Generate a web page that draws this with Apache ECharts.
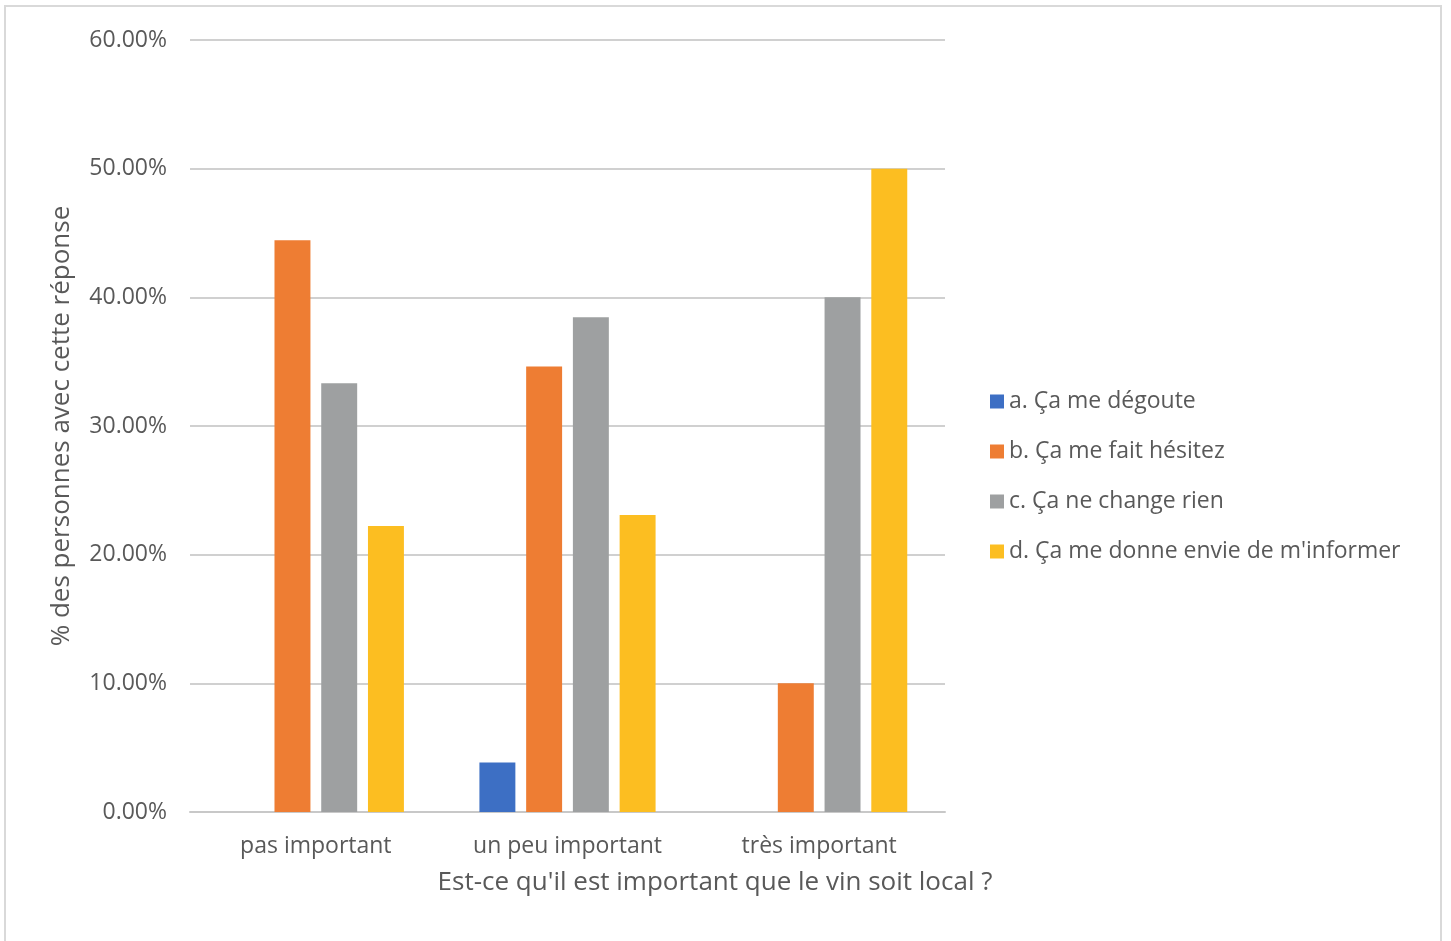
<!DOCTYPE html>
<html>
<head>
<meta charset="utf-8">
<title>Importance du vin local</title>
<script src="https://cdn.jsdelivr.net/npm/echarts@6/dist/echarts.min.js"></script>
<style>
  html, body { margin: 0; padding: 0; background: #ffffff; }
  #chart { width: 1451px; height: 941px; }
</style>
</head>
<body>
<div id="chart"></div>
<script>
// Survey answers, percentage of respondents per importance level
const categories = ['pas important', 'un peu important', 'très important'];
const seriesNames = [
  'a. Ça me dégoute',
  'b. Ça me fait hésitez',
  'c. Ça ne change rien',
  "d. Ça me donne envie de m'informer"
];
const valuesA = [0, 3.85, 0];
const valuesB = [44.44, 34.62, 10.00];
const valuesC = [33.33, 38.46, 40.00];
const valuesD = [22.22, 23.08, 50.00];
const seriesValues = [valuesA, valuesB, valuesC, valuesD];
const seriesColors = ['#3D6FC4', '#EE7D33', '#9EA0A1', '#FCBE21'];

const yAxisTitle = '% des personnes avec cette réponse';
const xAxisTitle = "Est-ce qu'il est important que le vin soit local ?";

const FONT = '"Open Sans", "Noto Sans", sans-serif';
const TEXT = '#595959';

const chart = echarts.init(document.getElementById('chart'), null, { renderer: 'canvas' });

chart.setOption({
  backgroundColor: '#ffffff',
  animation: false,
  graphic: [{
    type: 'rect',
    shape: { x: 5, y: 6, width: 1436, height: 950 },
    style: { fill: 'none', stroke: '#d9d9d9', lineWidth: 2 },
    silent: true,
    z: -1
  }],
  // x-axis title, centred under the plot and legend together
  title: {
    text: xAxisTitle,
    left: 710,
    top: 865,
    textAlign: 'center',
    textStyle: { color: TEXT, fontFamily: FONT, fontSize: 26, fontWeight: 'normal' }
  },
  grid: { left: 190, right: 506, top: 40, bottom: 129, containLabel: false },
  legend: {
    orient: 'vertical',
    left: 985,
    top: 385,
    itemWidth: 14,
    itemHeight: 14,
    itemGap: 27,
    icon: 'rect',
    textStyle: { color: TEXT, fontFamily: FONT, fontSize: 23, padding: [0, 0, 0, 0] },
    data: seriesNames
  },
  xAxis: {
    type: 'category',
    data: categories,
    axisLine: { show: true, lineStyle: { color: '#c8c8c8', width: 2 } },
    axisTick: { show: false },
    axisLabel: { color: TEXT, fontFamily: FONT, fontSize: 23, margin: 23 },
    splitLine: { show: false }
  },
  yAxis: {
    type: 'value',
    min: 0,
    max: 60,
    interval: 10,
    name: yAxisTitle,
    nameLocation: 'middle',
    nameGap: 115,
    nameRotate: 90,
    nameTextStyle: { color: TEXT, fontFamily: FONT, fontSize: 26 },
    axisLine: { show: false },
    axisTick: { show: false },
    axisLabel: {
      color: TEXT, fontFamily: FONT, fontSize: 23, margin: 23,
      formatter: v => v.toFixed(2) + '%'
    },
    splitLine: { show: true, lineStyle: { color: '#d0d0d0', width: 2 } }
  },
  series: seriesNames.map((name, i) => ({
    name: name,
    type: 'bar',
    data: seriesValues[i],
    barGap: '30%',
    barCategoryGap: '30%',
    itemStyle: { color: seriesColors[i] }
  }))
});
</script>
</body>
</html>
